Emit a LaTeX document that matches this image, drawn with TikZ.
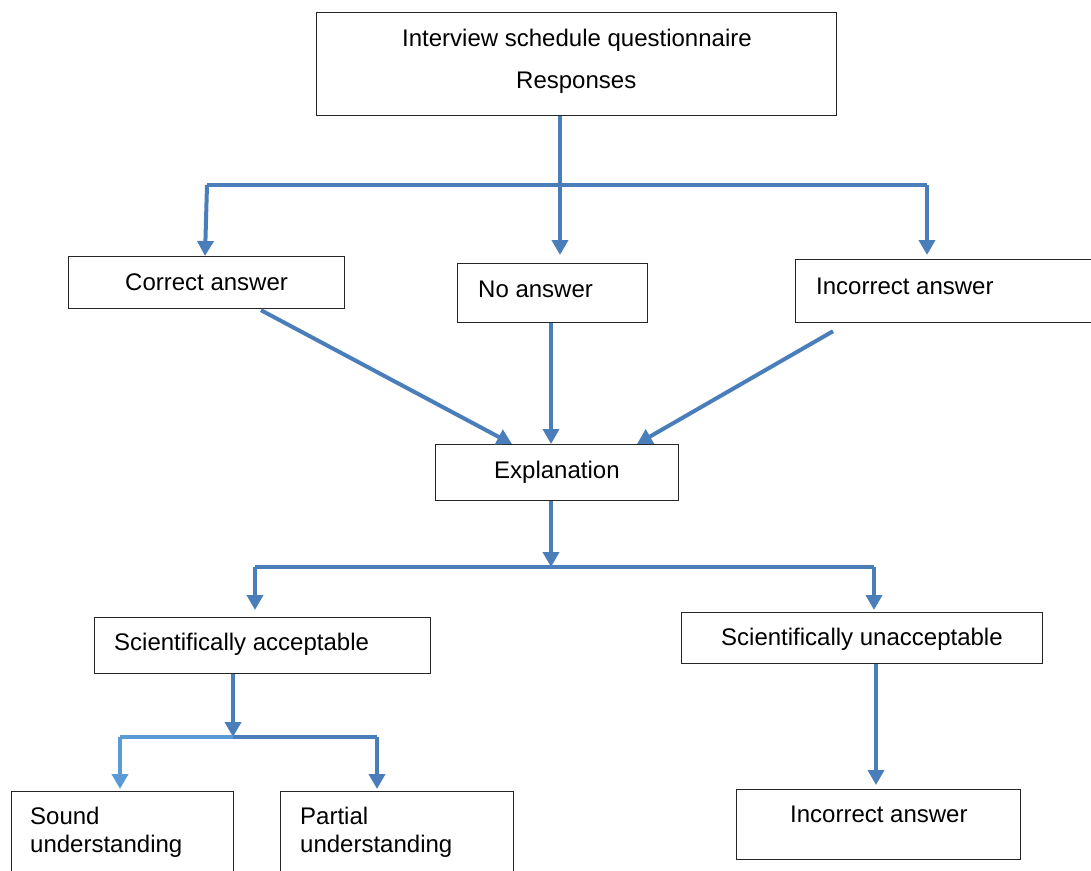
\documentclass[tikz,border=0pt]{standalone}
\usepackage{fontspec}
\setmainfont{Liberation Sans}
\usetikzlibrary{arrows.meta,calc}
\definecolor{flowblue}{HTML}{4A7EBB}
\definecolor{lightblue}{HTML}{5B9BD5}
\begin{document}
\begin{tikzpicture}[x=1pt,y=-1pt,
  box/.style={draw=black!85,line width=1.2pt,inner sep=0pt,anchor=north west},
  lbl/.style={anchor=base west,inner sep=0pt,font=\fontsize{24}{28}\selectfont},
  wire/.style={draw=flowblue,line width=4pt},
  arr/.style={wire,-{Triangle[width=16pt,length=15pt]}}]
\clip (0,0) rectangle (1091,870);
\fill[white] (0,0) rectangle (1091,870);

% boxes
\node[box,minimum width=520pt,minimum height=103pt] (top) at (316,12) {};
\node[box,minimum width=276pt,minimum height=52pt] (correct) at (68,256) {};
\node[box,minimum width=190pt,minimum height=59pt] (noans) at (457,263) {};
\node[box,minimum width=300pt,minimum height=63pt] (incorr) at (795,259) {};
\node[box,minimum width=243pt,minimum height=56pt] (expl) at (435,444) {};
\node[box,minimum width=336pt,minimum height=56pt] (sciacc) at (94,617) {};
\node[box,minimum width=361pt,minimum height=51pt] (sciun) at (681,612) {};
\node[box,minimum width=222pt,minimum height=100pt] (sound) at (11,791) {};
\node[box,minimum width=233pt,minimum height=100pt] (partial) at (280,791) {};
\node[box,minimum width=284pt,minimum height=70pt] (incorr2) at (736,789) {};

% texts
\node[lbl] (t1) at (402,46) {Interview schedule questionnaire};
\node[lbl] (t2) at (516,88) {Responses};
\node[lbl] (t3) at (125,290) {Correct answer};
\node[lbl] (t4) at (478,297) {No answer};
\node[lbl] (t5) at (816,294) {Incorrect answer};
\node[lbl] (t6) at (494,478) {Explanation};
\node[lbl] (t7) at (114,650) {Scientifically acceptable};
\node[lbl] (t8) at (721,645) {Scientifically unacceptable};
\node[lbl] (t9) at (30,824) {Sound};
\node[lbl] (t10) at (30,852) {understanding};
\node[lbl] (t11) at (300,824) {Partial};
\node[lbl] (t12) at (300,852) {understanding};
\node[lbl] (t13) at (790,822) {Incorrect answer};

% first split
\coordinate (busL) at (207,185);
\coordinate (busM) at (560,185);
\coordinate (busR) at (927,185);
\draw[wire] (busL) -- (busR);
\draw[arr,shorten >=8pt] (busM |- top.south) -- (busM |- noans.north);
\draw[arr] (busL) -- ($(correct.north west)+(137,0)$);
\draw[arr,shorten >=4pt] (busR) -- (busR |- incorr.north);

% into the explanation
\draw[arr] ($(correct.south west)+(193,1)$) -- ($(expl.north west)+(77,0)$);
\draw[arr] ($(noans.south west)+(94,0)$) -- ($(expl.north west)+(116,0)$);
\draw[arr] ($(incorr.south west)+(38,8)$) -- ($(expl.north west)+(202,0)$);

% second split
\coordinate (bus2L) at (255,567);
\coordinate (bus2M) at (551,567);
\coordinate (bus2R) at (874,567);
\draw[wire] (bus2L) -- (bus2R);
\draw[arr] (bus2M |- expl.south) -- (bus2M);
\draw[arr,shorten >=7pt] (bus2L) -- (bus2L |- sciacc.north);
\draw[arr,shorten >=2pt] (bus2R) -- (bus2R |- sciun.north);

% third split
\coordinate (bus3L) at (120,737);
\coordinate (bus3M) at (233,737);
\coordinate (bus3R) at (377,737);
\draw[arr] (bus3M |- sciacc.south) -- (bus3M);
\draw[wire,draw=lightblue] (bus3L) -- (bus3M);
\draw[wire] (bus3M) -- (bus3R);
\draw[arr,draw=lightblue,fill=lightblue,shorten >=2pt] (bus3L) -- (bus3L |- sound.north);
\draw[arr,shorten >=2pt] (bus3R) -- (bus3R |- partial.north);

% unacceptable branch
\draw[arr,shorten >=4pt] ($(sciun.south west)+(195,0)$) -- ($(incorr2.north west)+(140,0)$);
\end{tikzpicture}
\end{document}
